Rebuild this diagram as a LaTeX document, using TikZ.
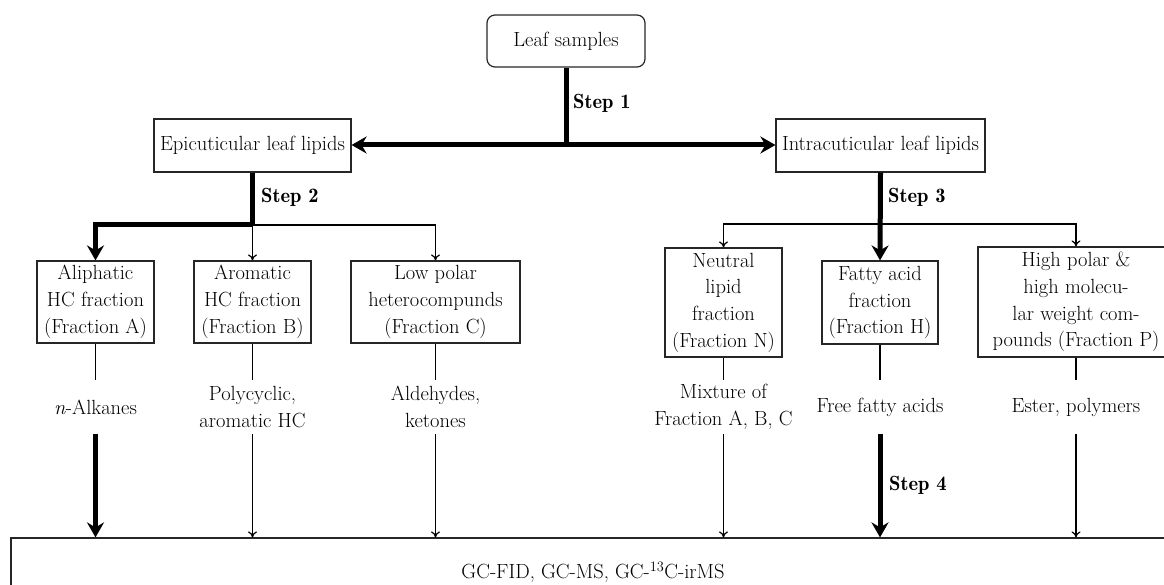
\documentclass[tikz,border=0pt]{standalone}
\usetikzlibrary{arrows.meta}
\tikzset{
  box/.style={draw=black!85, line width=1.2pt, inner sep=0pt, align=center, font=\fsz},
  lbl/.style={inner sep=0pt, align=center, font=\fsz, minimum height=53pt},
  steplbl/.style={inner sep=0pt, anchor=west, font=\fsz\fontseries{b}\selectfont},
  thinln/.style={line width=1.2pt},
  thinarr/.style={line width=1.2pt, -{To[length=6pt,width=9pt]}},
  thickln/.style={line width=5pt},
  thickarr/.style={line width=5pt, -{Stealth[length=15pt,width=17pt,inset=5pt]}},
  dblarr/.style={line width=5pt, {Stealth[length=15pt,width=17pt,inset=5pt]}-{Stealth[length=15pt,width=17pt,inset=5pt]}}
}
\newcommand{\fsz}{\fontsize{20.5}{26.7}\selectfont}
\begin{document}
\begin{tikzpicture}[x=1pt,y=-1pt]
\useasboundingbox (0,0) rectangle (1164,585);
\clip (0,0) rectangle (1164,585);
% boxes
\node[box, rounded corners=8pt, minimum width=158pt, minimum height=52pt] (leaf) at (566,41) {Leaf samples};
\node[box, minimum width=197pt, minimum height=53pt] (epi) at (252.5,145.5) {Epicuticular leaf lipids};
\node[box, minimum width=209pt, minimum height=53pt] (intra) at (880.5,145.5) {Intracuticular leaf lipids};
\node[box, minimum width=117pt, minimum height=82pt] (A) at (95.5,302) {Aliphatic\\HC fraction\\(Fraction A)};
\node[box, minimum width=117pt, minimum height=82pt] (B) at (252.5,302) {Aromatic\\HC fraction\\(Fraction B)};
\node[box, minimum width=169pt, minimum height=82pt] (C) at (435.5,302) {Low polar\\heterocompunds\\(Fraction C)};
\node[box, minimum width=117pt, minimum height=109pt] (N) at (723.5,302.5) {Neutral\\lipid\\fraction\\(Fraction N)};
\node[box, minimum width=116pt, minimum height=83pt] (H) at (880,302.5) {Fatty acid\\fraction\\(Fraction H)};
\node[box, minimum width=196pt, minimum height=110pt] (P) at (1076,302) {High polar \&\\high molecu-\\lar weight com-\\pounds (Fraction P)};
% labels
\node[lbl] (lA) at (95.5,407) {\textit{n}-Alkanes};
\node[lbl] (lB) at (252.5,407) {Polycyclic,\\aromatic HC};
\node[lbl] (lC) at (435.5,407) {Aldehydes,\\ketones};
\node[lbl] (lN) at (723.5,407) {Mixture of\\Fraction A, B, C};
\node[lbl] (lH) at (880,407) {Free fatty acids};
\node[lbl] (lP) at (1076,407) {Ester, polymers};
% bottom box
\node[box, minimum width=1164pt, minimum height=68pt] (G) at (593,572) {GC-FID, GC-MS, GC-\textsuperscript{13}C-irMS};
% step 1
\coordinate (j1) at (566,145);
\draw[thickln] (leaf.south) -- (j1);
\draw[dblarr] (epi.east |- j1) -- (intra.west |- j1);
\node[steplbl] (s1) at (573,103) {Step 1};
% step 2
\coordinate (j2) at (252.5,225);
\draw[thickln] (epi.south) -- (j2);
\draw[thickarr] (j2) -| (A.north);
\draw[thinarr] (j2) -- (B.north);
\draw[thinarr] (j2) -| (C.north);
\node[steplbl] (s2) at (261,197) {Step 2};
% step 3
\coordinate (j3) at (880.5,224);
\draw[thickarr] (intra.south) -- (H.north);
\draw[thinarr] (j3) -| (N.north);
\draw[thinarr] (j3) -| (P.north);
\node[steplbl] (s3) at (888,197) {Step 3};
% stubs
\foreach \n in {A,B,C,N,H,P}{\draw[thinln] (\n.south) -- (l\n.north);}
% arrows to bottom
\draw[thickarr] (lA.south) -- (lA.south |- G.north);
\draw[thinarr] (lB.south) -- (lB.south |- G.north);
\draw[thinarr] (lC.south) -- (lC.south |- G.north);
\draw[thinarr] (lN.south) -- (lN.south |- G.north);
\draw[thickarr] (lH.south) -- (lH.south |- G.north);
\draw[thinarr] (lP.south) -- (lP.south |- G.north);
\node[steplbl] (s4) at (889,485) {Step 4};
\end{tikzpicture}
\end{document}
